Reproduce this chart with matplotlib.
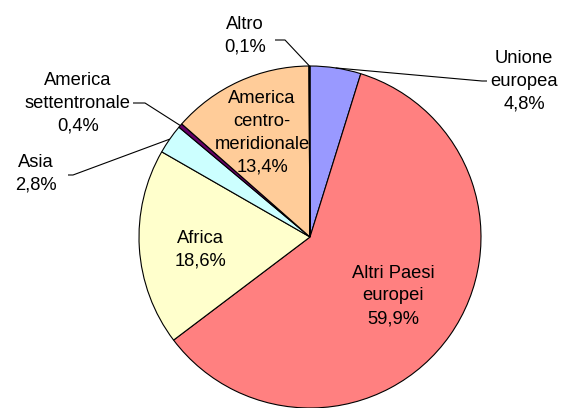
import numpy as np
import matplotlib
matplotlib.use("Agg")
import matplotlib.pyplot as plt

categories = ["Unione europea", "Altri Paesi europei", "Africa", "Asia",
              "America settentrionale", "America centro-meridionale", "Altro"]
labels = ["Unione\neuropea", "Altri Paesi\neuropei", "Africa", "Asia",
          "America\nsettentronale", "America\ncentro-\nmeridionale", "Altro"]
values = [4.8, 59.9, 18.6, 2.8, 0.4, 13.4, 0.1]
pct_labels = ["4,8%", "59,9%", "18,6%", "2,8%", "0,4%", "13,4%", "0,1%"]
colors = ["#9999FF", "#FF8080", "#FFFFCC", "#CCFFFF", "#660066", "#FFCC99", "#CCCCFF"]

W, H = 563, 408
plt.rcParams['font.family'] = ['Liberation Sans', 'DejaVu Sans']
fig = plt.figure(figsize=(W / 100, H / 100), dpi=100)
ax = fig.add_axes([0, 0, 1, 1])

cx, cy, r = 310, H - 237, 171
ax.pie(values, startangle=90, counterclock=False, colors=colors,
       center=(cx, cy), radius=r,
       wedgeprops=dict(edgecolor="black", linewidth=0.8))
ax.set_xlim(0, W)
ax.set_ylim(0, H)
ax.set_aspect("equal")
ax.axis("off")

fs = 13.2
ls = 1.45
# (text_x, text_y, leader_start_x, leader_start_y, leader_elbow_x) in pixels
outside = {
    0: (524, 81, 487, 81, 482),
    3: (36, 174, 68, 175, 73),
    4: (78, 103, 133, 103, 145),
    6: (245, 36, 275, 40, 285),
}
inside = {
    1: (393, 296),
    2: (200, 250),
    5: (262, 133),
}

total = sum(values)
cum = np.cumsum([0] + values)
for i, (lab, pct) in enumerate(zip(labels, pct_labels)):
    txt = lab + "\n" + pct
    if i in inside:
        x, y = inside[i]
        ax.text(x, H - y, txt, ha="center", va="center", fontsize=fs,
                linespacing=ls)
    else:
        x, y, lx, ly, ex = outside[i]
        ax.text(x, H - y, txt, ha="center", va="center", fontsize=fs,
                linespacing=ls)
        mid = (cum[i] + cum[i + 1]) / 2 / total * 360.0
        theta = np.deg2rad(90 - mid)
        px = cx + r * np.cos(theta)
        py = cy + r * np.sin(theta)
        ax.plot([lx, ex, px], [H - ly, H - ly, py], color="black", lw=0.8,
                solid_capstyle="butt")

fig.savefig("out.png", dpi=100)
